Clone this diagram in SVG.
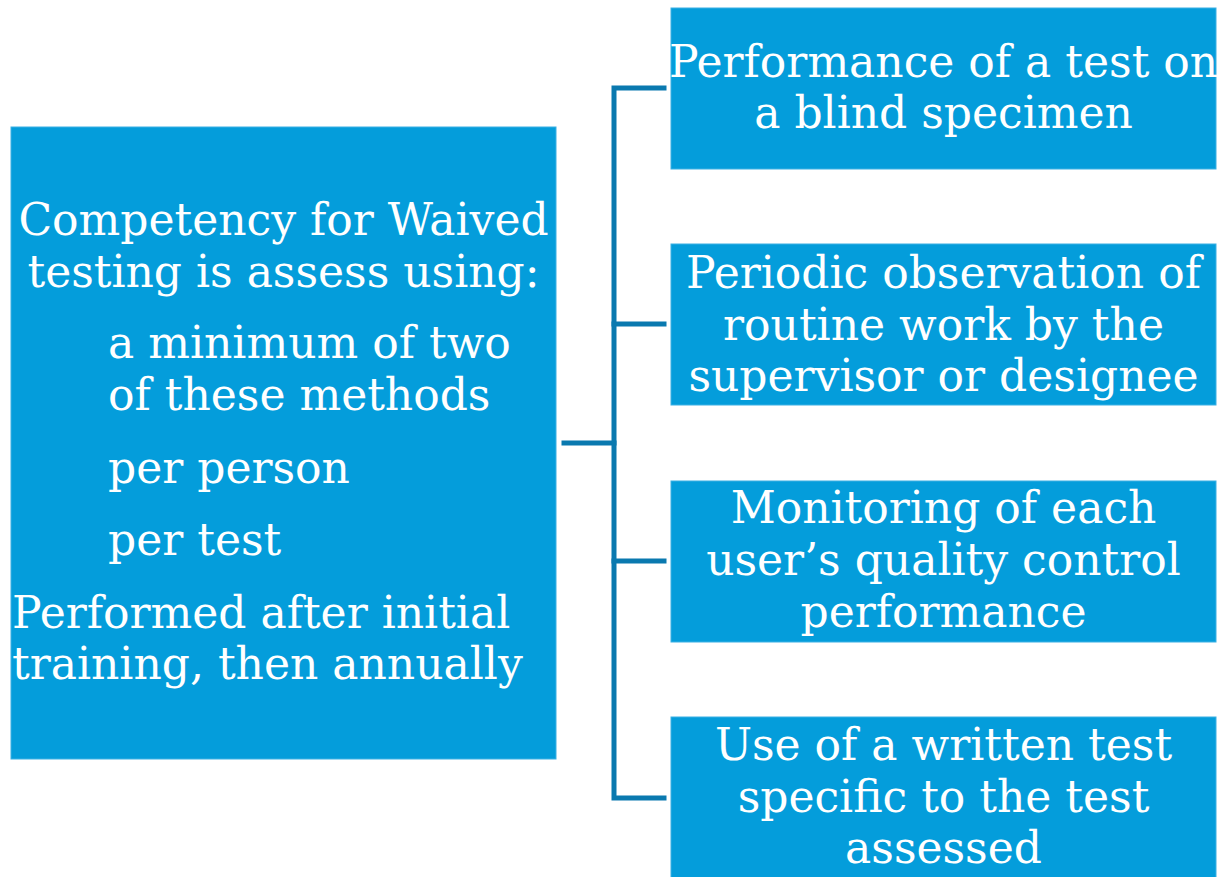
<svg xmlns="http://www.w3.org/2000/svg" width="1221" height="877" viewBox="0 0 1221 877">
<style>
.box{fill:#049DDB;stroke:#3AB0E4;stroke-width:1}
.t{font-family:"DejaVu Serif","Liberation Serif",serif;font-size:44px;fill:#FFFFFF}
.c{text-anchor:middle}
.conn{fill:none;stroke:#0A79AF;stroke-width:5;stroke-linecap:square;stroke-linejoin:miter}
</style>
<rect width="1221" height="877" fill="#FFFFFF"/>
<g id="connectors">
<path class="conn" d="M564 443H614"/>
<path class="conn" d="M664 88H614V798H664"/>
<path class="conn" d="M614 324H664"/>
<path class="conn" d="M614 561H664"/>
</g>
<g id="main">
<rect class="box" x="11" y="127" width="545" height="632"/>
<text class="t c" x="283.5" y="235">Competency for Waived</text>
<text class="t c" x="283.5" y="287">testing is assess using:</text>
<text class="t" x="108" y="358">a minimum of two</text>
<text class="t" x="108" y="410">of these methods</text>
<text class="t" x="108" y="483">per person</text>
<text class="t" x="108" y="555">per test</text>
<text class="t" x="12" y="628">Performed after initial</text>
<text class="t" x="12" y="679">training, then annually</text>
</g>
<g id="m1">
<rect class="box" x="671" y="8" width="545" height="161"/>
<text class="t c" x="943.5" y="77">Performance of a test on</text>
<text class="t c" x="943.5" y="128">a blind specimen</text>
</g>
<g id="m2">
<rect class="box" x="671" y="244" width="545" height="161"/>
<text class="t c" x="943.5" y="288">Periodic observation of</text>
<text class="t c" x="943.5" y="340">routine work by the</text>
<text class="t c" x="943.5" y="391">supervisor or designee</text>
</g>
<g id="m3">
<rect class="box" x="671" y="481" width="545" height="161"/>
<text class="t c" x="943.5" y="523">Monitoring of each</text>
<text class="t c" x="943.5" y="575">user’s quality control</text>
<text class="t c" x="943.5" y="627">performance</text>
</g>
<g id="m4">
<rect class="box" x="671" y="717" width="545" height="170"/>
<text class="t c" x="943.5" y="760">Use of a written test</text>
<text class="t c" x="943.5" y="812">specific to the test</text>
<text class="t c" x="943.5" y="863">assessed</text>
</g>
</svg>
